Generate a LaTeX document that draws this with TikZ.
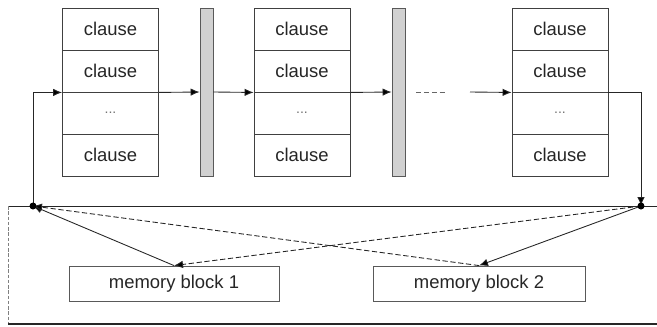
\documentclass[tikz,border=0pt]{standalone}
\usepackage{fontspec}
\setmainfont{Liberation Sans}
\usetikzlibrary{arrows.meta}

\begin{document}
\begin{tikzpicture}[x=0.02cm,y=-0.02cm,line width=0.5pt,draw=black!85,
  cell/.style={draw=black!75,minimum width=1.92cm,minimum height=0.84cm,inner sep=0pt,
    text=black!85,font=\fontsize{10.5}{12}\selectfont},
  bar/.style={draw=black!65,fill=black!18,minimum width=0.26cm,minimum height=3.36cm,inner sep=0pt},
  mem/.style={draw=black!65,minimum height=0.7cm,inner sep=0pt,
    text=black!85,font=\fontsize{10.5}{12}\selectfont},
  arr/.style={-{Latex[length=0.18cm,width=0.15cm,fill=black]}},
  dsh/.style={dash pattern=on 3pt off 1.5pt}]
\useasboundingbox (0,0) rectangle (657,326);
% clause blocks
\foreach \b/\x in {1/110.5,2/302,3/560}{
  \node[cell] (b\b r1) at (\x,29) {clause};
  \node[cell] (b\b r2) at (\x,71) {clause};
  \node[cell] (b\b r3) at (\x,113) {\fontsize{8}{9}\selectfont\color{black!55}...};
  \node[cell] (b\b r4) at (\x,155) {clause};
}
\node[bar] (g1) at (206.5,92) {};
\node[bar] (g2) at (398.5,92) {};
% memory
\node[mem,minimum width=4.2cm] (mem1) at (174,283.5) {memory block 1};
\node[mem,minimum width=4.24cm] (mem2) at (479,283.5) {memory block 2};
\coordinate (ld) at (33,206);
\coordinate (rd) at (641,206);
\coordinate (dots1) at (416,92);
\coordinate (dots2) at (447,92);
\coordinate (gap) at (470,92);
% frame
\draw (8,206) -- (657,206);
\draw[black!50,dash pattern=on 2pt off 1pt] (8,206) -- (8,324);
\draw[line width=0.8pt] (8,324) -- (657,324);
% flow
\draw[arr] (ld) |- (b1r2.south west);
\draw[arr] (b1r2.south east) -- (g1.west);
\draw[arr] (g1.east) -- (b2r2.south west);
\draw[arr] (b2r2.south east) -- (g2.west);
\draw[dsh,black!60] (dots1) -- (dots2);
\draw[arr] (gap) -- (b3r2.south west);
\draw[arr] (b3r2.south east) -| (rd);
% memory links
\draw[arr] (mem1.north) -- (ld);
\draw[arr,dsh] (mem2.north) -- (ld);
\draw[arr,dsh] (rd) -- (mem1.north);
\draw[arr] (rd) -- (mem2.north);
\fill[black] (ld) circle (0.07cm);
\fill[black] (rd) circle (0.07cm);
\end{tikzpicture}
\end{document}
